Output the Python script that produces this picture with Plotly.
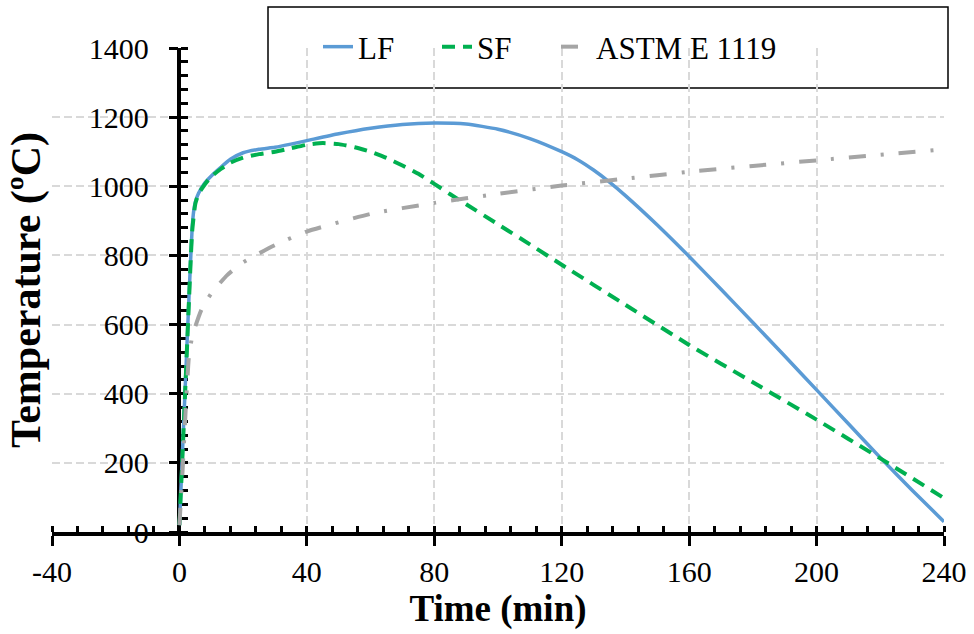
import plotly.graph_objects as go

# ---- data ----
lf_time = [0, 1, 2, 3, 4, 4.5, 5, 6, 8, 10, 13, 16, 20, 25, 30, 35, 40, 50, 60, 70, 80,
           90, 100, 110, 120, 125, 130, 135, 140, 150, 160, 170, 180, 190, 200, 210, 220, 230, 240]
lf_temp = [20, 240, 460, 680, 880, 930, 955, 980, 1010, 1030, 1055, 1078, 1097, 1107, 1113, 1122, 1132, 1152, 1168, 1179, 1183,
           1180, 1165, 1138, 1100, 1077, 1047, 1012, 973, 888, 797, 702, 606, 509, 411, 313, 215, 121, 30]

sf_time = [0, 1, 2, 3, 4, 5, 6, 8, 10, 13, 16, 20, 25, 30, 35, 40, 45, 50, 55, 60, 65, 70, 75, 80, 85,
           90, 100, 110, 120, 140, 160, 180, 200, 220, 240]
sf_temp = [20, 230, 450, 670, 870, 950, 978, 1006, 1028, 1050, 1068, 1083, 1093, 1100, 1110, 1120, 1125, 1122, 1113, 1100, 1082, 1060, 1036, 1007, 977,
           948, 890, 832, 773, 657, 541, 433, 325, 213, 98]

astm_time = [0, 1, 2, 3, 4, 5, 7, 10, 15, 20, 30, 40, 60, 80, 100, 120, 140, 160, 180, 200, 220, 240]
astm_temp = [20, 180, 360, 510, 565, 595, 645, 690, 743, 780, 830, 869, 920, 952, 978, 1002, 1022, 1042, 1059, 1075, 1091, 1107]

x_tick_vals = [-40, 0, 40, 80, 120, 160, 200, 240]
x_tick_labels = ["-40", "0", "40", "80", "120", "160", "200", "240"]
y_tick_vals = [0, 200, 400, 600, 800, 1000, 1200, 1400]
y_tick_labels = ["0", "200", "400", "600", "800", "1000", "1200", "1400"]

x_range = [-40, 240]
y_range = [0, 1400]

FONT = "Liberation Serif"

fig = go.Figure()
fig.add_trace(go.Scatter(x=lf_time, y=lf_temp, name="LF", mode="lines",
                         line=dict(color="#5B9BD5", width=3.5, shape="spline", smoothing=0.5)))
fig.add_trace(go.Scatter(x=sf_time, y=sf_temp, name="SF", mode="lines",
                         line=dict(color="#00B050", width=4, dash="13px,8px", shape="spline", smoothing=0.5)))
fig.add_trace(go.Scatter(x=astm_time, y=astm_temp, name="ASTM E 1119", mode="lines",
                         line=dict(color="#A5A5A5", width=4, dash="17px,15px,3px,15px", shape="spline", smoothing=0.5)))
# invisible spacer legend entry so the last label is not clipped
fig.add_trace(go.Scatter(x=[None], y=[None], name=" ", mode="lines",
                         line=dict(color="rgba(0,0,0,0)", width=0), hoverinfo="skip"))
# helper empty trace for overlay axes (crossing part of major ticks)
fig.add_trace(go.Scatter(x=[], y=[], xaxis="x2", yaxis="y2", showlegend=False, hoverinfo="skip"))

ypos = (0 - x_range[0]) / (x_range[1] - x_range[0])

fig.update_layout(
    width=974, height=634,
    margin=dict(l=52, r=30, t=48, b=102, autoexpand=False),
    paper_bgcolor="white", plot_bgcolor="white",
    font=dict(family=FONT, size=30, color="black"),
    showlegend=True,
    legend=dict(orientation="h", x=(318 - 52) / 892, xanchor="left",
                y=(532 - 47) / 484, yanchor="middle",
                font=dict(family=FONT, size=31, color="black"),
                bgcolor="rgba(0,0,0,0)", borderwidth=0,
                entrywidth=74, entrywidthmode="pixels", tracegroupgap=0),
    xaxis=dict(range=x_range, tickmode="array", tickvals=x_tick_vals, ticktext=x_tick_labels,
               showline=True, linecolor="black", linewidth=3.5, automargin=False,
               ticks="outside", ticklen=10, tickwidth=3, tickcolor="black",
               minor=dict(tickmode="linear", tick0=0, dtick=8, ticks="inside", ticklen=6, tickwidth=3,
                          tickcolor="black", showgrid=False),
               showgrid=True, gridcolor="#D9D9D9", gridwidth=1.5, griddash="8px,4px",
               zeroline=False, layer="below traces",
               tickfont=dict(family=FONT, size=30, color="black"), ticklabelstandoff=0,
               title=dict(text="<b>Time (min)</b>", font=dict(family=FONT, size=37), standoff=4)),
    yaxis=dict(range=y_range, tickmode="array", tickvals=y_tick_vals, ticktext=y_tick_labels,
               anchor="free", position=ypos, automargin=False,
               showline=True, linecolor="black", linewidth=3.5,
               ticks="outside", ticklen=9, tickwidth=3, tickcolor="black",
               minor=dict(tickmode="linear", tick0=0, dtick=40, ticks="inside", ticklen=7, tickwidth=3,
                          tickcolor="black", showgrid=False),
               showgrid=True, gridcolor="#D9D9D9", gridwidth=1.5, griddash="8px,4px",
               zeroline=False, layer="below traces",
               tickfont=dict(family=FONT, size=30, color="black"), ticklabelstandoff=14,
               title=dict(text="<b>Temperature (ºC)</b>", font=dict(family=FONT, size=42), standoff=34)),
    xaxis2=dict(range=x_range, overlaying="x", anchor="y", side="bottom",
                tickmode="array", tickvals=x_tick_vals,
                ticks="inside", ticklen=6, tickwidth=3, tickcolor="black", automargin=False,
                showticklabels=False, showgrid=False, showline=False, zeroline=False, layer="below traces"),
    yaxis2=dict(range=y_range, overlaying="y", anchor="free", position=ypos, side="left",
                tickmode="array", tickvals=y_tick_vals, automargin=False,
                ticks="inside", ticklen=7, tickwidth=3, tickcolor="black",
                showticklabels=False, showgrid=False, showline=False, zeroline=False, layer="below traces"),
    shapes=[dict(type="rect", xref="paper", yref="paper",
                 x0=(268 - 52) / 892, x1=(948 - 52) / 892,
                 y0=(532 - 88) / 484, y1=(532 - 7) / 484,
                 line=dict(color="black", width=1.5), fillcolor="white", layer="below")],
)

fig.write_html("out.html")
